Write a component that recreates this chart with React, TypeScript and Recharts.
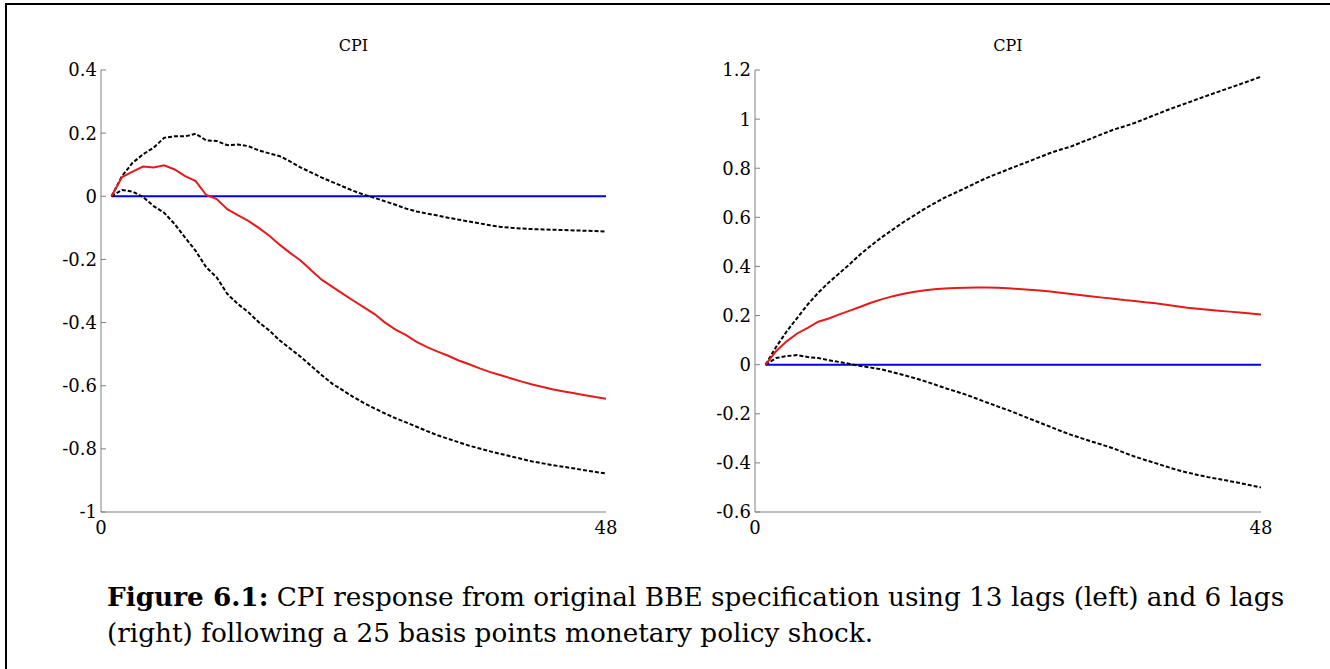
import { LineChart, Line, XAxis, YAxis, ReferenceLine } from "recharts";

// horizon (months after the shock)
const HORIZON = [
  1, 2, 3, 4, 5, 6, 7, 8, 9, 10, 11, 12, 13, 14, 15, 16, 17, 18, 19, 20, 21, 22, 23, 24,
  25, 26, 27, 28, 29, 30, 31, 32, 33, 34, 35, 36, 37, 38, 39, 40, 41, 42, 43, 44, 45, 46, 47, 48,
];

// left panel: 13 lags
const LEFT_MID = [
  0, 0.061, 0.078, 0.094, 0.091, 0.098, 0.085, 0.064, 0.048, 0.004, -0.009, -0.041,
  -0.06, -0.078, -0.1, -0.125, -0.154, -0.18, -0.204, -0.235, -0.265, -0.287, -0.309, -0.331,
  -0.352, -0.373, -0.4, -0.422, -0.44, -0.461, -0.478, -0.492, -0.505, -0.52, -0.532, -0.545,
  -0.557, -0.567, -0.577, -0.587, -0.596, -0.604, -0.612, -0.618, -0.624, -0.63, -0.636, -0.641,
];
const LEFT_HI = [
  0, 0.064, 0.106, 0.133, 0.154, 0.185, 0.19, 0.19, 0.198, 0.177, 0.175, 0.162,
  0.164, 0.159, 0.145, 0.136, 0.127, 0.11, 0.091, 0.075, 0.059, 0.045, 0.031, 0.017,
  0.005, -0.005, -0.016, -0.027, -0.039, -0.048, -0.055, -0.061, -0.068, -0.074, -0.08, -0.086,
  -0.092, -0.097, -0.1, -0.102, -0.104, -0.105, -0.106, -0.107, -0.108, -0.109, -0.11, -0.112,
];
const LEFT_LO = [
  0, 0.02, 0.015, -0.002, -0.031, -0.052, -0.088, -0.131, -0.173, -0.225, -0.257, -0.309,
  -0.341, -0.367, -0.399, -0.425, -0.457, -0.483, -0.509, -0.538, -0.567, -0.594, -0.615, -0.636,
  -0.655, -0.672, -0.688, -0.703, -0.716, -0.73, -0.744, -0.757, -0.768, -0.779, -0.79, -0.799,
  -0.808, -0.816, -0.824, -0.832, -0.84, -0.846, -0.852, -0.857, -0.862, -0.868, -0.873, -0.878,
];

// right panel: 6 lags
const RIGHT_MID = [
  0, 0.055, 0.095, 0.127, 0.15, 0.175, 0.188, 0.205, 0.22, 0.236, 0.252, 0.266,
  0.278, 0.288, 0.296, 0.302, 0.307, 0.31, 0.312, 0.313, 0.314, 0.314, 0.313, 0.311,
  0.308, 0.305, 0.302, 0.298, 0.293, 0.288, 0.283, 0.278, 0.273, 0.268, 0.263, 0.259,
  0.254, 0.25, 0.244, 0.238, 0.232, 0.228, 0.224, 0.22, 0.216, 0.212, 0.208, 0.204,
];
const RIGHT_HI = [
  0, 0.072, 0.135, 0.19, 0.245, 0.293, 0.335, 0.372, 0.41, 0.45, 0.485, 0.518,
  0.548, 0.578, 0.605, 0.632, 0.657, 0.68, 0.7, 0.72, 0.741, 0.761, 0.778, 0.795,
  0.812, 0.828, 0.845, 0.862, 0.876, 0.889, 0.906, 0.923, 0.94, 0.957, 0.97, 0.984,
  1.001, 1.018, 1.035, 1.051, 1.066, 1.082, 1.097, 1.112, 1.127, 1.142, 1.157, 1.173,
];
const RIGHT_LO = [
  0, 0.027, 0.035, 0.039, 0.031, 0.027, 0.018, 0.011, 0.003, -0.005, -0.012, -0.019,
  -0.03, -0.041, -0.053, -0.066, -0.08, -0.095, -0.108, -0.122, -0.138, -0.154, -0.17, -0.185,
  -0.202, -0.219, -0.236, -0.253, -0.27, -0.286, -0.3, -0.314, -0.327, -0.341, -0.358, -0.374,
  -0.388, -0.401, -0.415, -0.428, -0.439, -0.449, -0.458, -0.466, -0.474, -0.482, -0.491, -0.5,
];

const X_TICKS = [0, 48];
const LEFT_Y_TICKS = [-1, -0.8, -0.6, -0.4, -0.2, 0, 0.2, 0.4];
const RIGHT_Y_TICKS = [-0.6, -0.4, -0.2, 0, 0.2, 0.4, 0.6, 0.8, 1, 1.2];

const FONT = "'DejaVu Serif', serif";
const FRAME = "#808080";
const TICK_STYLE = { fill: "#000", fontSize: 18, fontFamily: FONT };

const fmt = (v: number) => String(Number(v.toFixed(1)));

const buildRows = (lo: number[], mid: number[], hi: number[]) =>
  HORIZON.map((t, i) => ({ t, lo: lo[i], mid: mid[i], hi: hi[i] }));

interface PanelProps {
  left: number;
  width: number;
  axisWidth: number;
  rightGap: number;
  domain: [number, number];
  yTicks: number[];
  rows: { t: number; lo: number; mid: number; hi: number }[];
}

function Panel({ left, width, axisWidth, rightGap, domain, yTicks, rows }: PanelProps) {
  const plotW = width - axisWidth - rightGap;
  return (
    <div style={{ position: "absolute", left, top: 0, width, height: 545 }}>
      <div
        style={{
          position: "absolute",
          left: axisWidth,
          width: plotW,
          top: 36,
          lineHeight: "20px",
          textAlign: "center",
          fontFamily: FONT,
          fontSize: 16,
          color: "#000",
        }}
      >
        CPI
      </div>
      <LineChart width={width} height={545} data={rows} margin={{ top: 70, right: rightGap, left: 0, bottom: 3 }}>
        <XAxis
          dataKey="t"
          type="number"
          domain={[0, 48]}
          ticks={X_TICKS}
          tickLine={false}
          tickSize={0}
          tickMargin={9}
          axisLine={{ stroke: FRAME }}
          tick={TICK_STYLE}
          height={30}
        />
        <XAxis
          xAxisId="top"
          orientation="top"
          type="number"
          domain={[0, 48]}
          height={0}
          tick={false}
          tickLine={false}
          axisLine={{ stroke: FRAME }}
        />
        <YAxis
          type="number"
          domain={domain}
          ticks={yTicks}
          width={axisWidth}
          tickSize={-5}
          tickMargin={9}
          tickLine={{ stroke: FRAME }}
          axisLine={{ stroke: FRAME }}
          tick={TICK_STYLE}
          tickFormatter={fmt}
          interval={0}
        />
        <YAxis
          yAxisId="r"
          orientation="right"
          type="number"
          domain={domain}
          ticks={yTicks}
          width={0}
          tickSize={-5}
          tickLine={{ stroke: FRAME }}
          axisLine={{ stroke: FRAME }}
          tick={false}
          interval={0}
        />
        <ReferenceLine
          segment={[
            { x: HORIZON[0], y: 0 },
            { x: HORIZON[HORIZON.length - 1], y: 0 },
          ]}
          stroke="#0000ee"
          strokeWidth={2}
        />
        <Line dataKey="hi" stroke="#000" strokeWidth={2} strokeDasharray="4 2" dot={false} activeDot={false} isAnimationActive={false} />
        <Line dataKey="lo" stroke="#000" strokeWidth={2} strokeDasharray="4 2" dot={false} activeDot={false} isAnimationActive={false} />
        <Line dataKey="mid" stroke="#e51b1b" strokeWidth={2} dot={false} activeDot={false} isAnimationActive={false} />
      </LineChart>
    </div>
  );
}

export default function App() {
  return (
    <div
      style={{
        position: "absolute",
        left: 0,
        top: 0,
        width: 1330,
        height: 669,
        overflow: "hidden",
        background: "#fff",
      }}
    >
      <div style={{ position: "absolute", left: 5, top: 3, width: 1325, height: 2, background: "#000" }} />
      <div style={{ position: "absolute", left: 5, top: 3, width: 2, height: 666, background: "#000" }} />
      <Panel
        left={0}
        width={620}
        axisWidth={101}
        rightGap={14}
        domain={[-1, 0.4]}
        yTicks={LEFT_Y_TICKS}
        rows={buildRows(LEFT_LO, LEFT_MID, LEFT_HI)}
      />
      <Panel
        left={640}
        width={640}
        axisWidth={115}
        rightGap={19}
        domain={[-0.6, 1.2]}
        yTicks={RIGHT_Y_TICKS}
        rows={buildRows(RIGHT_LO, RIGHT_MID, RIGHT_HI)}
      />
      <div
        style={{
          position: "absolute",
          left: 107,
          top: 579,
          fontFamily: FONT,
          fontSize: 26.3,
          lineHeight: "36px",
          color: "#000",
          whiteSpace: "nowrap",
        }}
      >
        <div>
          <b>Figure 6.1:</b> CPI response from original BBE specification using 13 lags (left) and 6 lags
        </div>
        <div>(right) following a 25 basis points monetary policy shock.</div>
      </div>
    </div>
  );
}
